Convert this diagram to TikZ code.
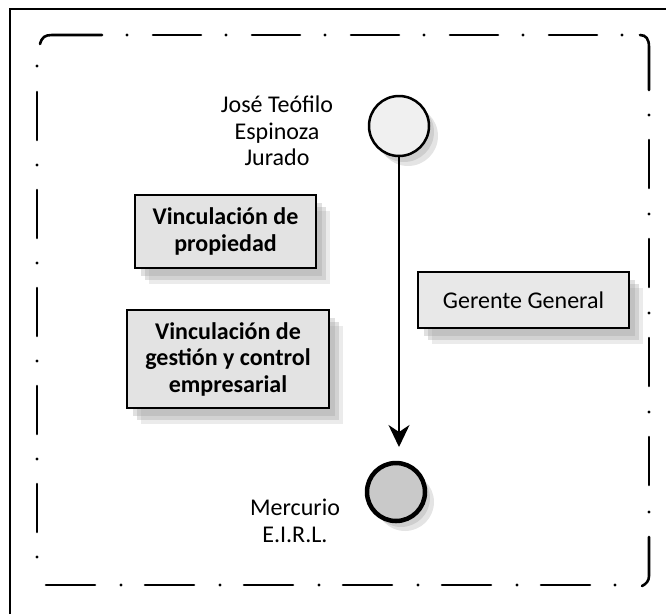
\documentclass[tikz,border=0pt]{standalone}
\usepackage{fontspec}
\setmainfont{Carlito}
\usetikzlibrary{arrows.meta,shadows}
\begin{document}
\begin{tikzpicture}[x=1pt,y=-1pt,
  framedash/.style={line width=2.6pt, line cap=round},
  framedot/.style={fill=black},
  lbl/.style={align=center, inner sep=0pt, font=\fontsize{24}{26.5}\selectfont},
  boxshadow/.style={
    drop shadow={shadow xshift=6pt, shadow yshift=-8pt, fill=gray!80, opacity=0.3},
    drop shadow={shadow xshift=10pt, shadow yshift=-12pt, fill=gray!80, opacity=0.3},
    drop shadow={shadow xshift=14pt, shadow yshift=-16pt, fill=gray!80, opacity=0.2}},
  vbox/.style={draw=black, line width=1.3pt, fill=gray!22, align=center, inner sep=0pt,
    font=\fontsize{24}{26.5}\selectfont\bfseries, boxshadow},
  gbox/.style={draw=black, line width=1.3pt, fill=gray!18, align=center, inner sep=0pt,
    font=\fontsize{24}{26}\selectfont, boxshadow},
  dotcircle/.style={circle, draw=black, inner sep=0pt,
    drop shadow={shadow xshift=5pt, shadow yshift=-6pt, fill=gray!70, opacity=0.35},
    drop shadow={shadow xshift=9pt, shadow yshift=-10pt, fill=gray!70, opacity=0.3}},
  flow/.style={line width=2pt, -{Stealth[length=22pt,width=21pt,inset=7pt]}}
]
\useasboundingbox (0,0) rectangle (666,614);
% outer page frame
\draw[line width=2pt] (10,614) -- (10,9) -- (666,9);
% dash-dot frame: top
\draw[framedash] (40,44) .. controls (42,37) and (45,35) .. (52,35) -- (102,35);
\foreach \x in {153,252,351,450,549} \draw[framedash] (\x,35) -- ++(48,0);
\foreach \x in {127,226,325,424,523,622} \fill[framedot] (\x,35) circle (1.7);
% right
\draw[framedash] (640,35) .. controls (646,35) and (649,39) .. (649,47) -- (649,90);
\foreach \y in {140,239,338,437} \draw[framedash] (649,\y) -- ++(0,48);
\foreach \y in {115,214,313,412,512} \fill[framedot] (649,\y) circle (1.7);
\draw[framedash] (649,537) -- (649,576) .. controls (649,581) and (646,584) .. (642,586);
% bottom
\foreach \x in {46,145,244,343,442,541} \draw[framedash] (\x,585) -- ++(49,0);
\foreach \x in {121,220,319,418,517,615} \fill[framedot] (\x,585) circle (1.7);
% left
\foreach \y in {92,190,288,386,484} \draw[framedash] (37,\y) -- ++(0,48);
\foreach \y in {66,165,263,361,459,557} \fill[framedot] (37,\y) circle (1.7);

% boxes
\node[vbox, minimum width=181pt, minimum height=73pt] (b1) at (225.5,231.5) {Vinculación de\\propiedad};
\node[vbox, minimum width=202pt, minimum height=98pt] (b2) at (228,359) {Vinculación de\\gestión y control\\empresarial};
\node[gbox, minimum width=211pt, minimum height=56pt] (gg) at (523.5,300) {Gerente General};

% circles
\node[dotcircle, line width=2.5pt, fill=gray!12, minimum size=60pt] (jose) at (399,126) {};
\node[dotcircle, line width=4.5pt, fill=gray!42, minimum size=58pt] (merc) at (396,492) {};

% labels
\node[lbl] (josel) at (277,131) {José Teófilo\\Espinoza\\Jurado};
\node[lbl] (mercl) at (295,521) {Mercurio\\E.I.R.L.};

% arrow
\coordinate (tip) at (399,447);
\draw[flow] (jose.south) -- (tip);
\end{tikzpicture}
\end{document}
